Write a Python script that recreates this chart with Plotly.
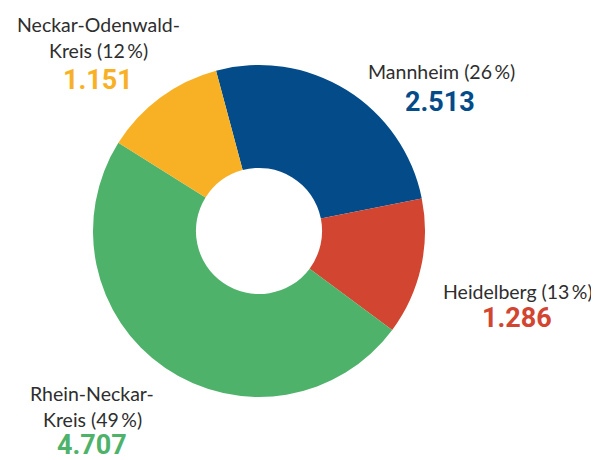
import plotly.graph_objects as go

# Data
regions = ["Mannheim", "Heidelberg", "Rhein-Neckar-Kreis", "Neckar-Odenwald-Kreis"]
values = [2513, 1286, 4707, 1151]
shares = [26, 13, 49, 12]
label_lines = [
    ["Mannheim ({} %)"],
    ["Heidelberg ({} %)"],
    ["Rhein-Neckar-", "Kreis ({} %)"],
    ["Neckar-Odenwald-", "Kreis ({} %)"],
]
colors = ["#034b89", "#d24530", "#4eb26a", "#f8b125"]

W, H = 599, 460
OFF = 8  # page body margin offset of the figure in the browser window

# label anchor positions (pixel centre of first line in window) and number centre
label_pos = [(441, 72), (518, 291), (92, 393), (98, 24)]
number_pos = [(440, 102), (517, 318), (92, 445), (98, 80)]
line_gap = 26


def px(x):
    return (x - OFF) / W


def py(y):
    return 1 - (y - OFF) / H


cx, cy, r = 259, 231, 166

fig = go.Figure(go.Pie(
    labels=regions,
    values=values,
    marker=dict(colors=colors, line=dict(width=0)),
    hole=0.38,
    sort=False,
    direction="clockwise",
    rotation=-15,
    textinfo="none",
    hoverinfo="label+value+percent",
    domain=dict(x=[px(cx - r), px(cx + r)], y=[py(cy + r), py(cy - r)]),
    showlegend=False,
))

annotations = []
for lines, share, val, col, (lx, ly), (nx, ny) in zip(label_lines, shares, values, colors, label_pos, number_pos):
    for i, ln in enumerate(lines):
        annotations.append(dict(
            text=ln.format(share).replace(" %", "\u2009%"),
            x=px(lx), y=py(ly + i * line_gap),
            xref="paper", yref="paper", xanchor="center", yanchor="middle",
            showarrow=False,
            font=dict(family="Lato, Noto Sans, sans-serif", size=19.5, color="#2e2e2e"),
        ))
    annotations.append(dict(
        text="<b>" + f"{val:,}".replace(",", ".") + "</b>",
        x=px(nx), y=py(ny),
        xref="paper", yref="paper", xanchor="center", yanchor="middle",
        showarrow=False, borderpad=0,
        font=dict(family="Roboto, sans-serif", size=27, color=col),
    ))

fig.update_layout(
    width=W, height=H,
    margin=dict(l=0, r=0, t=0, b=0),
    paper_bgcolor="white",
    plot_bgcolor="white",
    annotations=annotations,
)

fig.write_html("out.html")
